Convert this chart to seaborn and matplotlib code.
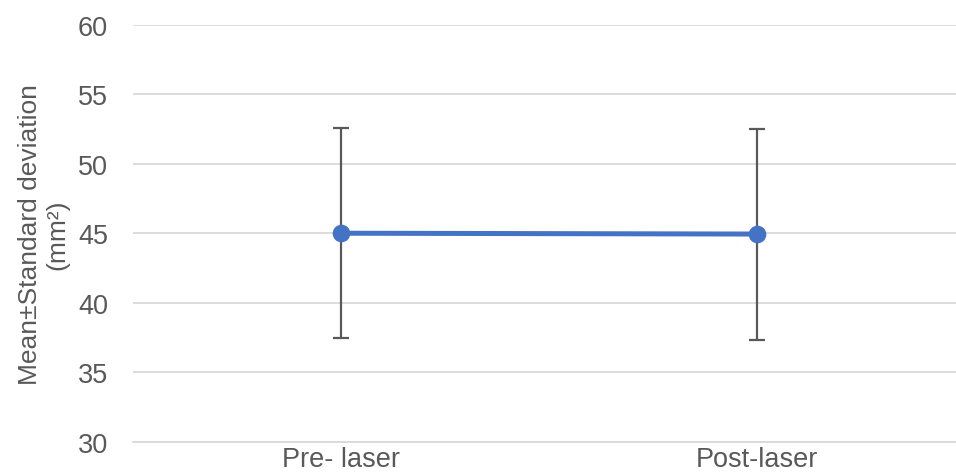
import matplotlib
matplotlib.use("Agg")
import matplotlib.pyplot as plt
import pandas as pd
import seaborn as sns

# values
groups = ["Pre- laser", "Post-laser"]
means = [45.02, 44.96]
sds = [7.57, 7.59]

df = pd.DataFrame({"group": groups, "mean": means, "sd": sds})

sns.set_theme(style="white")
plt.rcParams["font.family"] = ["Liberation Sans", "DejaVu Sans"]

fig = plt.figure(figsize=(9.56, 4.77), dpi=100)
ax = fig.add_axes([0.139, 0.0713, 0.870, 0.8742])

# error bars behind the line
ax.errorbar(range(len(df)), df["mean"], yerr=df["sd"], fmt="none",
            ecolor="#595959", elinewidth=1.6, capsize=5.5, capthick=1.6, zorder=2)

sns.pointplot(data=df, x="group", y="mean", errorbar=None, color="#4472C4",
              markers="o", markersize=10, linewidth=3.6, ax=ax, zorder=3)

ax.set_ylim(30, 60)
ax.set_yticks(range(30, 61, 5))
ax.set_xlim(-0.5, 1.5)
ax.yaxis.grid(True, color="#D9D9D9", linewidth=1.3)
ax.set_axisbelow(True)
for s in ["top", "right", "left"]:
    ax.spines[s].set_visible(False)
ax.spines["bottom"].set_color("#D9D9D9")
ax.spines["bottom"].set_linewidth(1.3)

ax.set_xlabel("")
ax.set_ylabel("Mean±Standard deviation\n(mm²)", fontsize=19, color="#595959",
              linespacing=1.2, labelpad=6)
ax.tick_params(axis="both", labelsize=19.5, colors="#595959", length=0)
ax.tick_params(axis="x", pad=3)
ax.tick_params(axis="y", pad=18)

fig.savefig("out.png", dpi=100)
